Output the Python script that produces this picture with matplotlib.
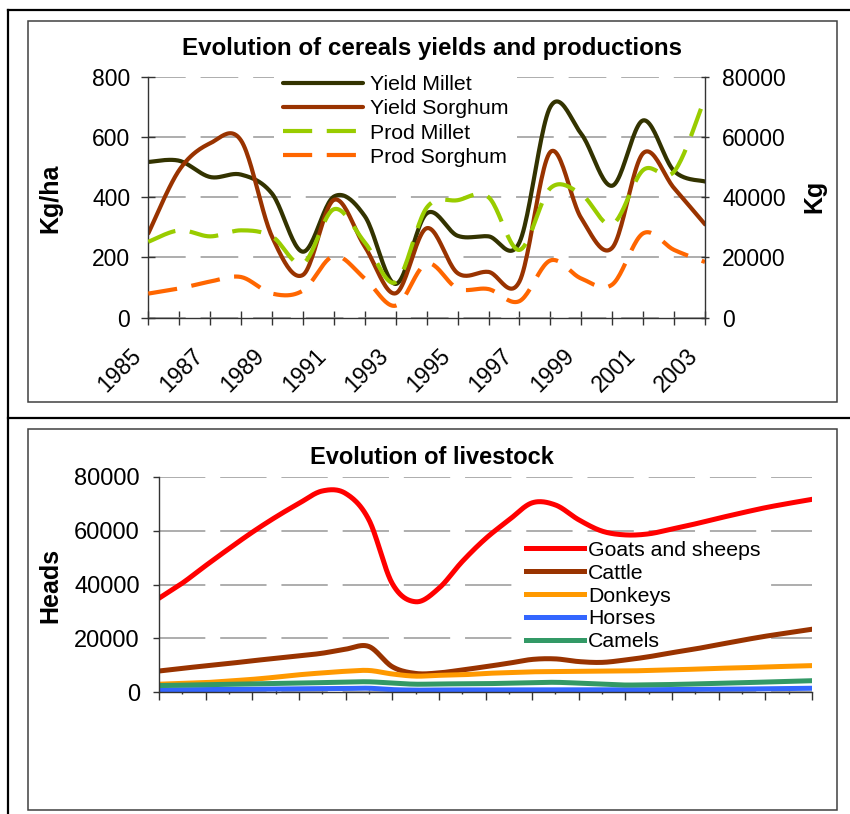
import numpy as np
import matplotlib.pyplot as plt
from matplotlib.lines import Line2D
from matplotlib.patches import Rectangle
from matplotlib.transforms import ScaledTranslation

plt.rcParams['font.family'] = ['Liberation Sans', 'DejaVu Sans']

# --- cereals (1985-2003) ---
years = list(range(1985, 2004))
yield_millet = [517, 521, 467, 475, 412, 219, 402, 337, 112, 346,
                272, 270, 250, 700, 610, 438, 655, 487, 452]
yield_sorghum = [280, 490, 579, 588, 269, 142, 391, 236, 81, 297,
                 148, 152, 120, 550, 330, 232, 546, 430, 310]
prod_millet = [25200, 29000, 27000, 29000, 27000, 18000, 36000, 25000, 11800, 36500,
               39000, 40000, 22500, 43000, 41000, 31000, 49000, 48500, 73000]
prod_sorghum = [8000, 9700, 12000, 13500, 8000, 9000, 20500, 13000, 4000, 18000,
                9700, 9500, 5500, 19000, 13000, 11000, 28000, 22500, 18500]

# --- livestock (29 points, no labels on the axis) ---
periods = list(range(29))
goats = [34900, 40500, 47000, 53300, 59400, 65000, 70100, 74700, 73800, 64000,
         40400, 33600, 38600, 48500, 57000, 63900, 70300, 69500, 64000, 59800,
         58400, 58800, 60600, 62500, 64600, 66600, 68500, 70100, 71600]
cattle = [7900, 8900, 9800, 10700, 11700, 12600, 13500, 14500, 16000, 17000,
          9500, 7000, 7200, 8300, 9500, 10800, 12200, 12400, 11400, 11100,
          12000, 13200, 14700, 16100, 17700, 19300, 20800, 22100, 23400]
donkeys = [3000, 3300, 3600, 4200, 4800, 5600, 6500, 7200, 7800, 8100,
           6800, 6000, 6300, 6500, 7000, 7300, 7600, 7700, 7800, 7850,
           7900, 8100, 8300, 8600, 8900, 9100, 9400, 9650, 9900]
horses = [900, 950, 1000, 1050, 1100, 1200, 1300, 1350, 1400, 1500,
          1000, 800, 850, 880, 900, 900, 900, 900, 900, 900,
          900, 950, 1000, 1050, 1100, 1200, 1300, 1400, 1500]
camels = [2500, 2650, 2800, 2950, 3100, 3250, 3400, 3600, 3800, 3900,
          3400, 3000, 3100, 3150, 3200, 3400, 3600, 3700, 3400, 3000,
          2700, 2800, 2900, 3100, 3300, 3550, 3800, 4050, 4300]


def smooth(x, y, steps=24):
    """Catmull-Rom curve through every point (spreadsheet style smoothed line)."""
    x = np.asarray(x, float)
    y = np.asarray(y, float)
    px = np.concatenate([[x[0]], x, [x[-1]]])
    py = np.concatenate([[y[0]], y, [y[-1]]])
    t = np.linspace(0, 1, steps, endpoint=False)
    h00 = 2 * t**3 - 3 * t**2 + 1
    h10 = t**3 - 2 * t**2 + t
    h01 = -2 * t**3 + 3 * t**2
    h11 = t**3 - t**2
    xs, ys = [], []
    for i in range(len(x) - 1):
        for arr, out in ((px, xs), (py, ys)):
            p0, p1, p2, p3 = arr[i], arr[i + 1], arr[i + 2], arr[i + 3]
            m1 = (p2 - p0) / 2
            m2 = (p3 - p1) / 2
            out.append(h00 * p1 + h10 * m1 + h01 * p2 + h11 * m2)
    xs.append([x[-1]])
    ys.append([y[-1]])
    return np.concatenate(xs), np.concatenate(ys)


W, H = 850, 814
fig = plt.figure(figsize=(W / 100, H / 100), dpi=100)


def fx(px):
    return px / W


def fy(py):
    return 1 - py / H


axis_col = '#333333'
grid_col = '#a0a0a0'
dash = (0, (38 / 1.4 / 1.2, 15 / 1.4 / 1.2))

# ---------------- top chart ----------------
ax = fig.add_axes([fx(148.3), fy(317.7), fx(705 - 148.3), (317.7 - 76.7) / H])
ax2 = ax.twinx()

lw = 3.0
dashed = (0, (7, 3.5))
ax.plot(*smooth(years, yield_millet), color='#333300', lw=lw, label='Yield Millet',
        solid_capstyle='round')
ax.plot(*smooth(years, yield_sorghum), color='#993300', lw=lw, label='Yield Sorghum',
        solid_capstyle='round')
ax2.plot(*smooth(years, prod_millet), color='#99CC00', lw=lw, ls=dashed,
         label='Prod Millet', dash_capstyle='butt')
ax2.plot(*smooth(years, prod_sorghum), color='#FF6600', lw=lw, ls=dashed,
         label='Prod Sorghum', dash_capstyle='butt')

ax.set_xlim(1985, 2003)
ax.set_ylim(0, 800)
ax2.set_ylim(0, 80000)
ax.set_yticks([0, 200, 400, 600, 800])
ax2.set_yticks([0, 20000, 40000, 60000, 80000])
ax.set_xticks(years)
ax.set_xticklabels([str(y) if (y - 1985) % 2 == 0 else '' for y in years],
                   rotation=45, ha='right', va='center', rotation_mode='anchor')

ax.tick_params(axis='x', direction='inout', length=10, width=1, color=axis_col,
               pad=20, labelsize=16.5)
ax.tick_params(axis='y', direction='inout', length=10, width=1, color=axis_col,
               pad=8, labelsize=16.5)
ax2.tick_params(axis='y', direction='inout', length=6, width=1, color=axis_col,
                pad=9.3, labelsize=16.5)

# nudge the slanted year labels left of their ticks
for lab in ax.get_xticklabels():
    lab.set_transform(lab.get_transform() + ScaledTranslation(-0.11, 0, fig.dpi_scale_trans))

ax.grid(axis='y', color=grid_col, lw=1.2, ls=dash)
ax.set_axisbelow(True)
for a in (ax, ax2):
    a.spines['top'].set_visible(False)
    for s in a.spines.values():
        s.set_color(axis_col)
        s.set_linewidth(1)
ax.spines['right'].set_visible(False)
ax2.spines['left'].set_visible(False)
ax2.spines['bottom'].set_visible(False)

h1, l1 = ax.get_legend_handles_labels()
h2, l2 = ax2.get_legend_handles_labels()
leg = ax2.legend(h1 + h2, l1 + l2, loc='center left', bbox_to_anchor=(fx(274), fy(121)),
                 bbox_transform=fig.transFigure, fontsize=15.3, frameon=True,
                 facecolor='white', edgecolor='none', framealpha=1, fancybox=False,
                 handlelength=3.8, handletextpad=0.3, labelspacing=0.24,
                 borderpad=0.4, borderaxespad=0)
leg.set_zorder(1.5)

fig.text(fx(432), fy(48), 'Evolution of cereals yields and productions',
         ha='center', va='center', fontsize=17.4, fontweight='bold')
fig.text(fx(50), fy(198), 'Kg/ha', rotation=90, ha='center', va='center',
         fontsize=18, fontweight='bold')
fig.text(fx(814), fy(196), 'Kg', rotation=90, ha='center', va='center',
         fontsize=18, fontweight='bold')

# ---------------- bottom chart ----------------
bx = fig.add_axes([fx(159), fy(692.3), fx(812 - 159), (692.3 - 476.7) / H])
blw = 3.6
bx.plot(*smooth(periods, goats), color='#FF0000', lw=blw, label='Goats and sheeps')
bx.plot(*smooth(periods, cattle), color='#993300', lw=blw, label='Cattle')
bx.plot(*smooth(periods, donkeys), color='#FF9900', lw=blw, label='Donkeys')
bx.plot(*smooth(periods, horses), color='#3366FF', lw=blw, label='Horses')
bx.plot(*smooth(periods, camels), color='#339966', lw=blw, label='Camels')

bx.set_xlim(0, 28)
bx.set_ylim(0, 80000)
bx.set_yticks([0, 20000, 40000, 60000, 80000])
bx.set_xticks(range(0, 29, 2))
bx.set_xticks(range(1, 28, 2), minor=True)
bx.set_xticklabels([])
bx.tick_params(axis='x', which='major', direction='out', length=5.5, width=1, color=axis_col)
bx.tick_params(axis='x', which='minor', direction='inout', length=3, width=1, color=axis_col)
bx.tick_params(axis='y', direction='out', length=4.5, width=1, color=axis_col,
               pad=9.2, labelsize=17)
bx.grid(axis='y', color=grid_col, lw=1.2, ls=(0, (46.7 / 1.4 / 1.2, 15 / 1.4 / 1.2)))
bx.set_axisbelow(True)
bx.spines['top'].set_visible(False)
bx.spines['right'].set_visible(False)
for s in ('left', 'bottom'):
    bx.spines[s].set_color(axis_col)
    bx.spines[s].set_linewidth(1)

bleg = bx.legend(loc='center left', bbox_to_anchor=(fx(522), fy(596)),
                 bbox_transform=fig.transFigure, fontsize=15.3, frameon=True,
                 facecolor='white', edgecolor='none', framealpha=1, fancybox=False,
                 handlelength=2.7, handletextpad=0.2, labelspacing=0.18,
                 borderpad=0.2, borderaxespad=0)
bleg.set_zorder(1.5)

fig.text(fx(432), fy(457), 'Evolution of livestock', ha='center', va='center',
         fontsize=17, fontweight='bold')
fig.text(fx(50), fy(585), 'Heads', rotation=90, ha='center', va='center',
         fontsize=18, fontweight='bold')

# ---------------- page frame ----------------
for xs_, ys_ in (([8, W], [10, 10]), ([8, 8], [10, H]), ([8, W], [418, 418])):
    fig.add_artist(Line2D([fx(v) for v in xs_], [fy(v) for v in ys_], color='black',
                          lw=1.6, transform=fig.transFigure))
for top, bottom in ((21, 402.3), (429.3, 810)):
    fig.add_artist(Rectangle((fx(27.7), fy(bottom)), fx(837.3 - 27.7), (bottom - top) / H,
                             fill=False, edgecolor='#404040', lw=1.1,
                             transform=fig.transFigure))

fig.savefig('out.png', dpi=100)
